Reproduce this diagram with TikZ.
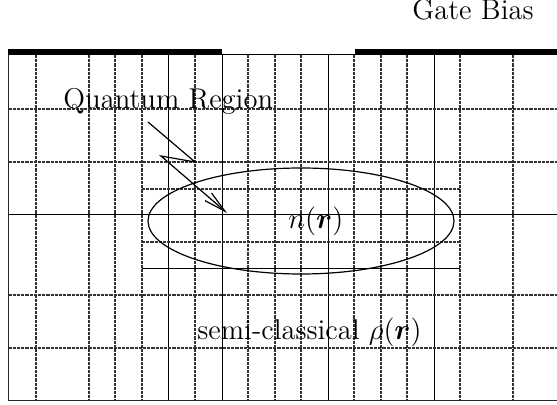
\documentclass[tikz,border=0pt]{standalone}
\usepackage{amsmath}
\usetikzlibrary{arrows.meta,shapes.geometric}
\begin{document}
\begin{tikzpicture}[x=0.5pt,y=-0.5pt,
  solidln/.style={line width=0.5pt},
  dashln/.style={line width=0.6pt, draw=black!80, dash pattern=on 1.6pt off 0.5pt},
  gatebar/.style={fill=black},
  lbl/.style={inner sep=0pt, font=\fontsize{14.3}{17}\selectfont},
  zigarrow/.style={line width=0.6pt, -{Straight Barb[length=11pt,width=5pt]}},
]
\useasboundingbox (0,0) rectangle (557,405);
\clip (0,0) rectangle (557,405);
% vertical grid lines
\foreach \x in {36,89,115,142,195,248,275,301,354,381,407,460,513}
  \draw[dashln] (\x,55) -- (\x,400.5);
\foreach \x in {168,222,328,434}
  \draw[solidln] (\x,55) -- (\x,400.5);
% horizontal full lines
\foreach \y in {109,162,295,348}
  \draw[dashln] (8.5,\y) -- (560,\y);
\draw[solidln] (8.5,215) -- (560,215);
% horizontal partial lines (quantum region mesh)
\foreach \y in {189,242}
  \draw[dashln] (142,\y) -- (460,\y);
\draw[solidln] (142,269) -- (460,269);
% border
\draw[line width=0.5pt] (8.5,55) -- (560,55);
\draw[line width=0.8pt, draw=black!85] (8.5,55) -- (8.5,400.5) -- (560,400.5);
% gate electrodes
\fill[gatebar] (8,49) rectangle (222,55.5);
\fill[gatebar] (355,49) rectangle (560,55.5);
% quantum region ellipse
\node[draw, ellipse, line width=0.6pt, minimum width=153pt, minimum height=53pt, inner sep=0pt] (qr) at (301,221) {};
% labels
\node[lbl, anchor=base east] (gate) at (534,20) {Gate Bias};
\node[lbl, anchor=base west] (qlabel) at (63,109) {Quantum Region};
\node[lbl, anchor=base west] (nlabel) at (288,229) {$n(\boldsymbol{r})$};
\node[lbl, anchor=base west] (sclabel) at (197,340) {semi-classical $\rho(\boldsymbol{r})$};
% zig-zag arrow
\coordinate (qstart) at (148,122);
\coordinate (qbendA) at (195,162);
\coordinate (qbendB) at (161,156);
\coordinate (qtip) at (227,213);
\draw[zigarrow] (qstart) -- (qbendA) -- (qbendB) -- (qtip);
\end{tikzpicture}
\end{document}
